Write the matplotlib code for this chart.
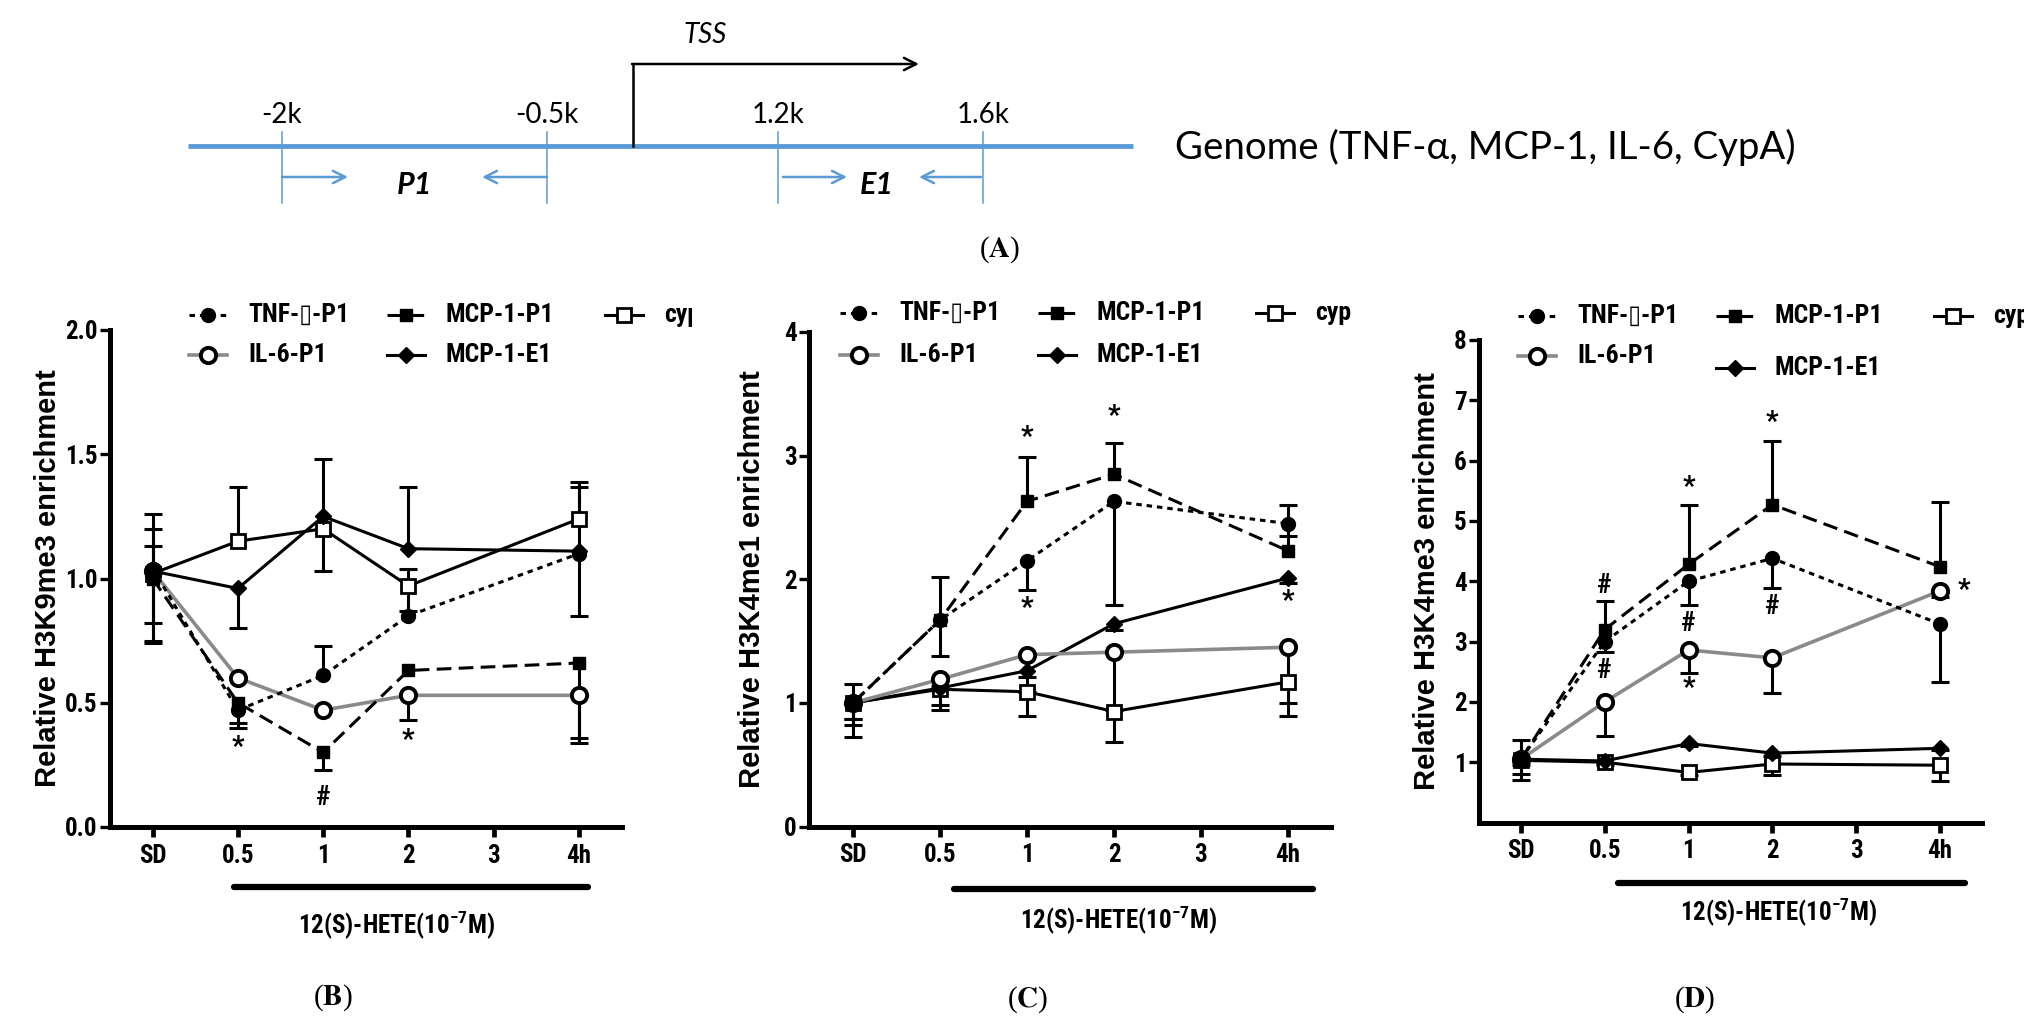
import matplotlib
matplotlib.use('Agg')
import matplotlib.pyplot as plt
from matplotlib import font_manager
from matplotlib.transforms import Bbox, TransformedBbox, ScaledTranslation


# pick a condensed sans for the Prism-style labels, if one is installed
NARROW, STRETCH = 'Liberation Sans', 'normal'
prefs = ['Liberation Sans Narrow', 'Roboto Condensed', 'DejaVu Sans Condensed', 'Open Sans Condensed']
found = {}
for f in font_manager.fontManager.ttflist:
    if f.stretch in ('condensed', 'semi-condensed', 'extra-condensed') or 'Narrow' in f.name \
            or 'Condensed' in f.name:
        found.setdefault(f.name, f.stretch)
for p in prefs:
    if p in found:
        NARROW, STRETCH = p, found[p]
        break
else:
    if found:
        NARROW, STRETCH = sorted(found.items())[0]

plt.rcParams['font.family'] = [NARROW, 'DejaVu Sans']
plt.rcParams['font.stretch'] = STRETCH
plt.rcParams['font.weight'] = 'bold'
plt.rcParams['mathtext.fontset'] = 'custom'
plt.rcParams['mathtext.rm'] = NARROW + ':bold'
plt.rcParams['mathtext.default'] = 'rm'

# ---- data -------------------------------------------------------------
time_labels = ['SD', '0.5', '1', '2', '3', '4h']
time_pos = [0, 1, 2, 3, 5]

# (B) H3K9me3 : means, lower / upper error bar lengths
k9_tnf = [1.04, 0.47, 0.61, 0.85, 1.10]
k9_tnf_lo = [0.22, 0.05, 0.00, 0.00, 0.25]
k9_tnf_hi = [0.22, 0.00, 0.12, 0.00, 0.27]
k9_mcp = [1.00, 0.50, 0.30, 0.63, 0.66]
k9_mcp_lo = [0.26, 0.10, 0.07, 0.00, 0.32]
k9_mcp_hi = [0.00, 0.00, 0.00, 0.00, 0.00]
k9_il6 = [1.03, 0.60, 0.47, 0.53, 0.53]
k9_il6_lo = [0.28, 0.00, 0.00, 0.10, 0.17]
k9_il6_hi = [0.00, 0.00, 0.00, 0.00, 0.00]
k9_e1 = [1.03, 0.96, 1.25, 1.12, 1.11]
k9_e1_lo = [0.00, 0.16, 0.00, 0.00, 0.00]
k9_e1_hi = [0.10, 0.00, 0.23, 0.25, 0.00]
k9_cyp = [1.02, 1.15, 1.20, 0.97, 1.24]
k9_cyp_lo = [0.00, 0.00, 0.17, 0.10, 0.00]
k9_cyp_hi = [0.18, 0.22, 0.00, 0.07, 0.15]
k9_marks = [('*', 1, 0.32), ('#', 2, 0.12), ('*', 3, 0.35)]

# (C) H3K4me1
k4m1_tnf = [1.00, 1.67, 2.15, 2.63, 2.45]
k4m1_tnf_lo = [0.13, 0.29, 0.24, 0.84, 0.10]
k4m1_mcp = [1.00, 1.67, 2.63, 2.85, 2.23]
k4m1_mcp_hi = [0.15, 0.35, 0.36, 0.25, 0.37]
k4m1_il6 = [1.00, 1.19, 1.39, 1.41, 1.45]
k4m1_il6_lo = [0.18, 0.05, 0.30, 0.47, 0.45]
k4m1_e1 = [1.00, 1.12, 1.26, 1.64, 2.01]
k4m1_e1_lo = [0.13, 0.14, 0.05, 0.05, 0.04]
k4m1_cyp = [1.00, 1.11, 1.09, 0.93, 1.17]
k4m1_cyp_lo = [0.28, 0.17, 0.20, 0.25, 0.28]
k4m1_marks = [('*', 2, 3.15), ('*', 2, 1.76), ('*', 3, 3.32), ('*', 5, 1.82)]

# (D) H3K4me3
k4m3_tnf = [1.05, 3.00, 4.00, 4.38, 3.29]
k4m3_tnf_lo = [0.25, 0.17, 0.40, 0.50, 0.96]
k4m3_mcp = [1.05, 3.20, 4.28, 5.27, 4.24]
k4m3_mcp_hi = [0.31, 0.47, 0.99, 1.06, 1.07]
k4m3_il6 = [1.05, 2.00, 2.86, 2.73, 3.84]
k4m3_il6_lo = [0.10, 0.57, 0.38, 0.58, 0.10]
k4m3_e1 = [1.05, 1.02, 1.31, 1.15, 1.23]
k4m3_e1_lo = [0.05, 0.03, 0.04, 0.04, 0.03]
k4m3_cyp = [1.03, 1.00, 0.83, 0.97, 0.95]
k4m3_cyp_lo = [0.33, 0.05, 0.05, 0.18, 0.27]
k4m3_marks = [('#', 1, 3.93), ('#', 1, 2.52), ('*', 2, 5.56), ('#', 2, 3.30),
              ('*', 2, 2.23), ('*', 3, 6.64), ('#', 3, 3.58), ('*', 5.28, 3.84)]

series_keys = ['tnf', 'il6', 'mcp', 'e1', 'cyp']
series_labels = ['TNF-\u25af-P1', 'IL-6-P1', 'MCP-1-P1', 'MCP-1-E1', 'cyp']

# (A) schematic
site_labels = ['-2k', '-0.5k', '1.2k', '1.6k']

# ---- styles -----------------------------------------------------------
LW = 2.2
styles = {
    'tnf': dict(color='black', ls=(0, (1.8, 1.6)), lw=LW, marker='o', ms=10, mfc='black', mec='black', mew=1),
    'mcp': dict(color='black', ls=(0, (4.8, 2.4)), lw=LW, marker='s', ms=9, mfc='black', mec='black', mew=1),
    'il6': dict(color='#8a8a8a', ls='-', lw=2.6, marker='o', ms=11, mfc='white', mec='black', mew=2.8),
    'e1': dict(color='black', ls='-', lw=LW, marker='D', ms=8.5, mfc='black', mec='black', mew=1),
    'cyp': dict(color='black', ls='-', lw=LW, marker='s', ms=10, mfc='white', mec='black', mew=2),
}
BLUE = '#5b9bd5'
ZERO = [0.0] * len(time_pos)

W, H = 2040, 1032
fig = plt.figure(figsize=(W / 100, H / 100), dpi=100)


def rect(left, top, right, bottom):
    return [left / W, 1 - bottom / H, (right - left) / W, (bottom - top) / H]


def error_bars(ax, y, lo, hi):
    bot = [v - d for v, d in zip(y, lo)]
    top = [v + d for v, d in zip(y, hi)]
    ax.vlines(time_pos, bot, top, color='black', lw=LW, zorder=2)
    ends = [(x, b) for x, b, d in zip(time_pos, bot, lo) if d > 0] + \
           [(x, t) for x, t, d in zip(time_pos, top, hi) if d > 0]
    if ends:
        ex, ey = zip(*ends)
        ax.plot(ex, ey, ls='none', marker='_', ms=13, mew=LW, color='black', zorder=2)


def panel(r, series, lows, highs, marks, ylim, yticks, yfmt, ylabel, lab_x,
          bar, bar_off, txt_x, txt_off):
    ax = fig.add_axes(r)
    order = ['cyp', 'e1', 'il6', 'mcp', 'tnf']
    for key in order:
        error_bars(ax, series[key], lows[key], highs[key])
    for key in order:
        ax.plot(time_pos, series[key], zorder=3, **styles[key])
    for s, x, y in marks:
        ax.text(x, y, s, ha='center', va='center', fontsize=20)
    ax.set_xlim(-0.5, 5.5)
    ax.set_ylim(*ylim)
    ax.set_xticks(range(len(time_labels)))
    ax.set_xticklabels(time_labels)
    ax.set_yticks(yticks)
    ax.set_yticklabels([yfmt.format(v) for v in yticks])
    for side in ['top', 'right']:
        ax.spines[side].set_visible(False)
    for side in ['left', 'bottom']:
        ax.spines[side].set_linewidth(3.6)
    ax.tick_params(axis='x', length=7, width=3.4, pad=5, labelsize=18)
    ax.tick_params(axis='y', length=7, width=2.4, pad=2, labelsize=18)
    ax.set_ylabel(ylabel, family='Liberation Sans', stretch='normal', fontsize=21, fontweight='bold')
    ax.yaxis.set_label_coords(lab_x, 0.5)
    tr = ax.get_xaxis_transform() + ScaledTranslation(0, -bar_off / 100, fig.dpi_scale_trans)
    ax.plot(bar, [0, 0], color='black', lw=4.5, solid_capstyle='round', transform=tr, clip_on=False)
    tr2 = ax.get_xaxis_transform() + ScaledTranslation(0, -txt_off / 100, fig.dpi_scale_trans)
    ax.text(txt_x, 0, '12(S)-HETE(10$^{-7}$M)', transform=tr2, ha='center', va='center', fontsize=18)
    return ax


panel(rect(110, 330, 621.6, 827),
      dict(tnf=k9_tnf, mcp=k9_mcp, il6=k9_il6, e1=k9_e1, cyp=k9_cyp),
      dict(tnf=k9_tnf_lo, mcp=k9_mcp_lo, il6=k9_il6_lo, e1=k9_e1_lo, cyp=k9_cyp_lo),
      dict(tnf=k9_tnf_hi, mcp=k9_mcp_hi, il6=k9_il6_hi, e1=k9_e1_hi, cyp=k9_cyp_hi),
      k9_marks, (0, 2.0), [0, 0.5, 1.0, 1.5, 2.0], '{:.1f}',
      'Relative H3K9me3 enrichment', -0.094, [0.95, 5.11], 60, 2.86, 98)
panel(rect(809.5, 332, 1331.5, 826.5),
      dict(tnf=k4m1_tnf, mcp=k4m1_mcp, il6=k4m1_il6, e1=k4m1_e1, cyp=k4m1_cyp),
      dict(tnf=k4m1_tnf_lo, mcp=ZERO, il6=k4m1_il6_lo, e1=k4m1_e1_lo, cyp=k4m1_cyp_lo),
      dict(tnf=ZERO, mcp=k4m1_mcp_hi, il6=ZERO, e1=ZERO, cyp=ZERO),
      k4m1_marks, (0, 4), [0, 1, 2, 3, 4], '{:d}',
      'Relative H3K4me1 enrichment', -0.083, [1.16, 5.29], 62, 3.05, 93)
panel(rect(1479, 340, 1982, 822.5),
      dict(tnf=k4m3_tnf, mcp=k4m3_mcp, il6=k4m3_il6, e1=k4m3_e1, cyp=k4m3_cyp),
      dict(tnf=k4m3_tnf_lo, mcp=ZERO, il6=k4m3_il6_lo, e1=k4m3_e1_lo, cyp=k4m3_cyp_lo),
      dict(tnf=ZERO, mcp=k4m3_mcp_hi, il6=ZERO, e1=ZERO, cyp=ZERO),
      k4m3_marks, (0, 8), [1, 2, 3, 4, 5, 6, 7, 8], '{:d}',
      'Relative H3K4me3 enrichment', -0.075, [1.16, 5.30], 60, 3.07, 89)

# ---- overlay in pixel coordinates: legends, schematic, captions --------
ov = fig.add_axes([0, 0, 1, 1], zorder=5)
ov.set_xlim(0, W)
ov.set_ylim(H, 0)
ov.axis('off')

leg_dx = [0, 0, 198, 198, 416]
legends = [((208, 315), [0, 40, 0, 40, 0], 692),
           ((859, 313), [0, 42, 0, 42, 0], 1380),
           ((1537, 316), [0, 40, 0, 52, 0], 2024)]
for (ox, oy), leg_dy, clip_x in legends:
    cb = TransformedBbox(Bbox([[0, 0], [clip_x / W, 1]]), fig.transFigure)
    for key, lab, dx, dy in zip(series_keys, series_labels, leg_dx, leg_dy):
        x, y = ox + dx, oy + dy
        ln, = ov.plot([x - 19, x, x + 19], [y, y, y], markevery=[1], **styles[key])
        ln.set_clip_box(cb)
        t = ov.text(x + 40, y, lab, ha='left', va='center', fontsize=18.5)
        t.set_clip_box(cb)
        t.set_clip_on(True)

# schematic (A)
ov.plot([188, 1133], [146, 146], color=BLUE, lw=3.5, solid_capstyle='butt')
site_px = [282, 547, 778, 983]
for lab, x in zip(site_labels, site_px):
    ov.plot([x, x], [132, 203], color=BLUE, lw=1.1)
    ov.text(x, 115, lab, family='Lato', stretch='normal', fontweight='normal', fontsize=20,
            ha='center', va='center')
for x0, x1 in [(282, 348), (547, 482), (783, 847), (981, 919)]:
    ov.annotate('', xy=(x1, 177), xytext=(x0, 177),
                arrowprops=dict(arrowstyle='->', color=BLUE, lw=1.8, mutation_scale=22,
                                shrinkA=0, shrinkB=0))
for lab, x in [('P1', 415), ('E1', 877)]:
    ov.text(x, 185, lab, family='Lato', stretch='normal', fontstyle='italic', fontweight='bold',
            fontsize=22, ha='center', va='center')
ov.plot([633, 633], [146, 64], color='black', lw=1.8)
ov.annotate('', xy=(919, 64), xytext=(632, 64),
            arrowprops=dict(arrowstyle='->', color='black', lw=1.8, mutation_scale=22,
                            shrinkA=0, shrinkB=0))
ov.text(705, 35, 'TSS', family='Lato', stretch='normal', fontstyle='italic', fontweight='normal',
        fontsize=20, ha='center', va='center')
ov.text(1175, 147, 'Genome (TNF-\u03b1, MCP-1, IL-6, CypA)', family='Lato', stretch='normal',
        fontweight='normal', fontsize=27.6, ha='left', va='center')

for lab, x, y in [('A', 1000, 250), ('B', 333, 998), ('C', 1028, 1000), ('D', 1695, 1000)]:
    ov.text(x, y, '($\\mathbf{' + lab + '}$)', family='Liberation Serif', stretch='normal',
            fontweight='normal', math_fontfamily='stix', fontsize=21, ha='center', va='center')

fig.savefig('out.png', dpi=100)
